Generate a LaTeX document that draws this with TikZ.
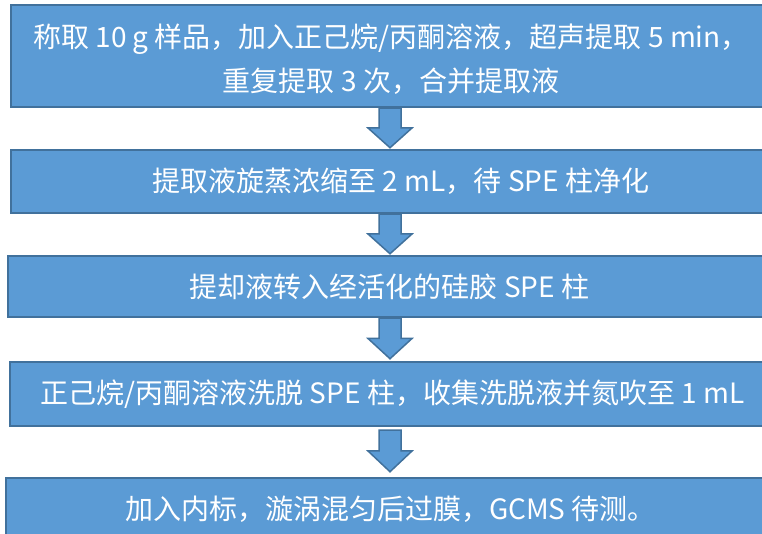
\documentclass[tikz,border=0pt]{standalone}
\usepackage{fontspec}
\setmainfont{Noto Sans CJK SC}
\usetikzlibrary{calc}
\definecolor{boxfill}{HTML}{5B9BD5}
\definecolor{boxline}{HTML}{41719C}
\newcommand\flowarr[4]{%
  \draw[flowarrow] let \p1=(#1.south), \p2=(#2.north) in
    (379pt,\y1-#3) -- (401pt,\y1-#3) -- (401pt,{(\y1-#3+\y2+#4)/2}) -- (412pt,{(\y1-#3+\y2+#4)/2})
    -- (390pt,\y2+#4) -- (368pt,{(\y1-#3+\y2+#4)/2}) -- (379pt,{(\y1-#3+\y2+#4)/2}) -- cycle;}
\begin{document}
\begin{tikzpicture}[x=1pt,y=1pt,
  stepbox/.style={rectangle, draw=boxline, fill=boxfill, line width=2.5pt, text=white,
    inner sep=0pt, align=center, font=\fontsize{28}{43.5}\selectfont},
  flowarrow/.style={draw=boxline, fill=boxfill, line width=1.5pt, line join=miter}]
\useasboundingbox (0,0) rectangle (762,534);
\node[stepbox, minimum width=760, minimum height=102] (b1) at (391,478)
  {\rule{0pt}{30pt}称取 10 g 样品，加入正己烷/丙酮溶液，超声提取 5 min，\\重复提取 3 次，合并提取液};
\node[stepbox, minimum width=780, minimum height=63] (b2) at (401,352.5)
  {提取液旋蒸浓缩至 2 mL，待 SPE 柱净化};
\node[stepbox, minimum width=763, minimum height=61] (b3) at (389.5,247.5)
  {提却液转入经活化的硅胶 SPE 柱};
\node[stepbox, minimum width=765, minimum height=64] (b4) at (392.5,140)
  {正己烷/丙酮溶液洗脱 SPE 柱，收集洗脱液并氮吹至 1 mL};
\node[stepbox, minimum width=769, minimum height=62] (b5) at (390.5,25)
  {加入内标，漩涡混匀后过膜，GCMS 待测。};
\flowarr{b1}{b2}{0pt}{1pt}
\flowarr{b2}{b3}{0pt}{1pt}
\flowarr{b3}{b4}{0pt}{2pt}
\flowarr{b4}{b5}{3pt}{5pt}
\end{tikzpicture}
\end{document}
